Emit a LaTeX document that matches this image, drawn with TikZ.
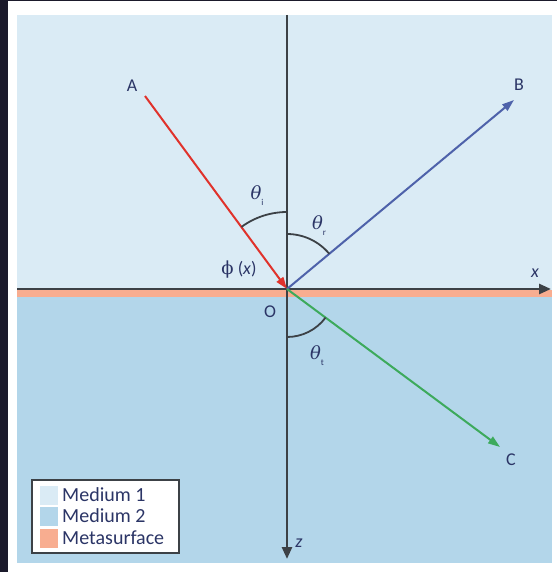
\documentclass[tikz,border=0pt]{standalone}
\usepackage{fontspec}
\setmainfont{Carlito}
\newfontfamily\grk{DejaVu Serif}
\usetikzlibrary{arrows.meta,calc}
\definecolor{mone}{HTML}{DAEBF5}
\definecolor{mtwo}{HTML}{B3D6EA}
\definecolor{meta}{HTML}{F8AD90}
\definecolor{axisc}{HTML}{3C4146}
\definecolor{txt}{HTML}{2B3566}
\definecolor{framec}{HTML}{1B1A2B}
\definecolor{rayr}{HTML}{E0322B}
\definecolor{rayb}{HTML}{4E62AA}
\definecolor{rayg}{HTML}{3DAA5C}
\newcommand{\thsub}[1]{{\grk\itshape θ}\raisebox{-0.7ex}{\fontsize{9}{9}\selectfont #1}}
\tikzset{
  ray/.style={line width=2pt},
  axisline/.style={line width=2.6pt, draw=axisc, -{Triangle[length=12pt,width=10pt]}},
  lbl/.style={text=txt, inner sep=0pt, font=\fontsize{18}{20}\selectfont},
  grklbl/.style={text=txt, inner sep=0pt, font=\fontsize{18}{20}\selectfont},
  anglearc/.style={draw=axisc, line width=1.8pt},
  legtext/.style={text=txt, inner sep=0pt, anchor=west, font=\fontsize{20}{22}\selectfont},
  swatch/.style={minimum width=18pt, minimum height=19pt, inner sep=0pt, draw=none},
  head/.style={-{Triangle[length=12pt,width=8pt]}}
}
\begin{document}
\begin{tikzpicture}[x=1pt,y=-1pt]
\useasboundingbox (0,0) rectangle (557,572);
\fill[white] (0,0) rectangle (557,572);
\fill[framec] (0,0) rectangle (7.5,572);
\fill[framec] (0,0) rectangle (557,1.5);
% media
\fill[mone] (17,15) rectangle (552,290);
\fill[meta] (17,290) rectangle (552,297);
\fill[mtwo] (17,297) rectangle (552,563);
% coordinates
\coordinate (O) at (287,289);
\coordinate (xs) at (17,289);
\coordinate (xe) at (551,289);
\coordinate (zs) at (287,15);
\coordinate (ze) at (287,559);
\coordinate (Ap) at (145,96);
\coordinate (Bp) at (514,100);
\coordinate (Cp) at (500,447);
% axes
\draw[axisline] (xs) -- (xe);
\draw[axisline] (zs) -- (ze);
% rays
\draw[ray, rayr, head] (Ap) -- (O);
\draw[ray, rayb, head] (O) -- (Bp);
\draw[ray, rayg, head] (O) -- (Cp);
% angle arcs
\draw[anglearc] ($(O)+(-90:77)$) arc[start angle=-90, end angle=-126.3, radius=77];
\draw[anglearc] ($(O)+(-90:55)$) arc[start angle=-90, end angle=-39.8, radius=55];
\draw[anglearc] ($(O)+(90:48)$) arc[start angle=90, end angle=36.6, radius=48];
% labels
\node[lbl] (lA) at (132,86) {A};
\node[lbl] (lB) at (519,85) {B};
\node[lbl] (lC) at (511,460) {C};
\node[lbl] (lO) at (270,312) {O};
\node[lbl] (lx) at (535,273) {\itshape x};
\node[lbl] (lz) at (299,543) {\itshape z};
\node[grklbl] (ti) at (257,196) {\thsub{i}};
\node[grklbl] (tr) at (319,226) {\thsub{r}};
\node[grklbl] (tt) at (317,356) {\thsub{t}};
\node[lbl] (phi) at (239,270) {{\grk ϕ} (\textit{x})};
% legend
\draw[fill=white, draw=axisc, line width=2pt] (32,480) rectangle (179,553);
\node[swatch, fill=mone] (s1) at (49,495) {};
\node[swatch, fill=mtwo] (s2) at (49,516) {};
\node[swatch, fill=meta] (s3) at (49,538) {};
\node[legtext] (t1) at (62,495) {Medium 1};
\node[legtext] (t2) at (62,516) {Medium 2};
\node[legtext] (t3) at (62,538) {Metasurface};
\end{tikzpicture}
\end{document}
